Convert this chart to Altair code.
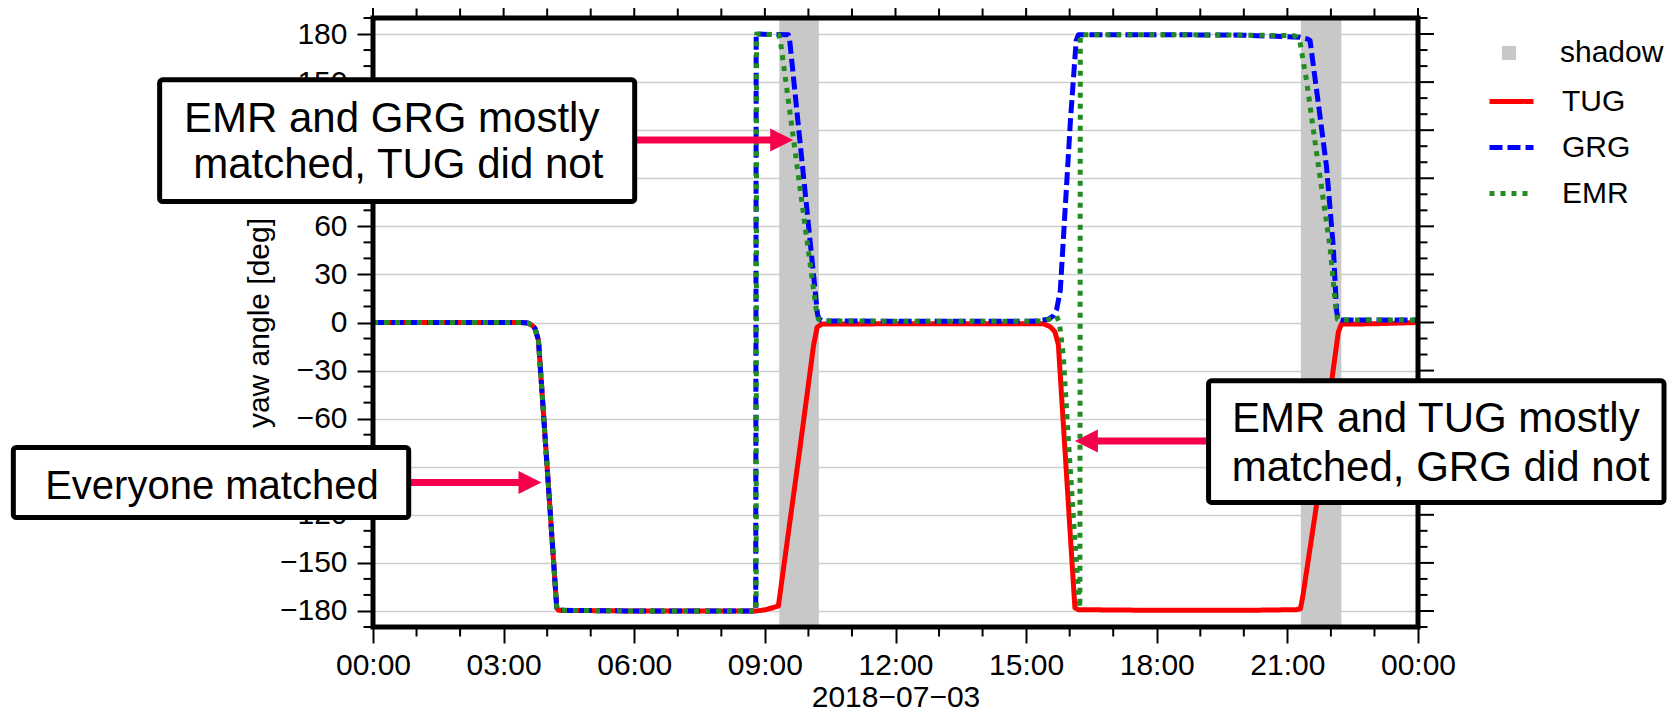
import altair as alt
import pandas as pd

W, H = 1045, 609
FONT = "Liberation Sans"

# ---------------- data ----------------
series_names = ["TUG", "GRG", "EMR"]
series_colors = ["#ff0000", "#0000ff", "#228b22"]
series_dashes = [[1, 0], [13, 5], [5, 6]]

tug_t = [0, 3.40, 3.55, 3.645, 3.72, 3.80, 4.22, 4.26, 6.0, 8.0, 8.8, 9.00, 9.31, 9.81,
         10.12, 10.20, 10.30, 12.0, 15.0, 15.40, 15.55, 15.66, 15.74, 16.12, 16.20, 18.0,
         20.0, 21.20, 21.30, 21.36, 21.68, 22.03, 22.17, 22.24, 23.0, 24.0]
tug_y = [0, 0, -0.3, -1.6, -3.7, -11, -178, -179.6, -180, -180, -180, -179.3, -177, -77.5,
         -14, -3, -1, -0.8, -0.8, -0.8, -2.6, -5.7, -13.7, -178, -179.2, -179.6,
         -179.6, -179.2, -178.6, -170, -112, -34, -6, -1, -0.8, 0]

grg_t = [0, 3.40, 3.55, 3.645, 3.72, 3.80, 4.22, 4.26, 6.0, 8.79, 8.80, 9.54, 9.57, 10.21,
         10.25, 10.32, 12.0, 15.0, 15.30, 15.50, 15.62, 15.70, 15.785, 16.02, 16.15, 16.20,
         18.0, 20.0, 21.29, 21.45, 21.52, 21.71, 21.90, 22.055, 22.13, 22.17, 22.25, 24.0]
grg_y = [0, 0, -0.3, -1.6, -3.7, -11, -178, -179.6, -180, -180, 180, 179.5, 176, 5,
         2, 1, 0.8, 0.8, 1.0, 2.0, 4.0, 8.0, 20, 127, 176, 179.5,
         179.6, 179.3, 178, 177, 176, 137, 97, 47, 7, 2, 1.5, 1.5]

emr_t = [0, 3.40, 3.55, 3.645, 3.72, 3.80, 4.22, 4.26, 6.0, 8.80, 8.81, 9.32, 9.36, 10.18,
         10.23, 10.32, 12.0, 15.0, 15.40, 15.58, 15.70, 15.76, 15.80, 15.855, 15.97, 16.12,
         16.20, 16.235, 16.245, 18.0, 20.0, 21.15, 21.22, 21.29, 21.44, 21.67, 21.98, 22.10,
         22.15, 22.22, 24.0]
emr_y = [0, 0, -0.3, -1.6, -3.7, -11, -178, -179.6, -180, -180, 180, 179.5, 175, 8,
         2, 1, 0.8, 0.8, 1, 2.5, 4, 0, -8, -21, -73, -136,
         -167, -178, 179.5, 179.6, 179.3, 179, 178, 175, 151, 106, 47, 12,
         2, 1.5, 1.5]

shadow_start = [9.33, 21.31]
shadow_end = [10.24, 22.24]

x_major = list(range(0, 25, 3))
x_minor = [h for h in range(25) if h % 3]
y_major = list(range(-180, 181, 30))
y_minor = [v for v in range(-190, 191, 10) if v % 30]

# annotations (in data units: hours, degrees)
box_x1 = [-4.90, 19.19, -8.26]
box_x2 = [6.01, 29.65, 0.82]
box_y1 = [151.4, -36.4, -78.0]
box_y2 = [75.5, -112.3, -121.7]

note_text = ["EMR and GRG mostly", "matched, TUG did not",
             "EMR and TUG mostly", "matched, GRG did not", "Everyone matched"]
note_x = [0.43, 0.58, 24.41, 24.52, -3.70]
note_y = [119.1, 90.0, -68.1, -98.7, -110.1]
note_size = [42, 42, 42, 42, 40]

arrow_r_from = [6.06, 0.87]
arrow_r_to = [9.65, 3.87]
arrow_r_y = [113.9, -99.8]
arrow_l_from = [19.13]
arrow_l_to = [16.12]
arrow_l_y = [-73.9]
ARROW = "#f5004a"

# ---------------- tables ----------------
rows = []
for name, ts, ys in [("TUG", tug_t, tug_y), ("GRG", grg_t, grg_y), ("EMR", emr_t, emr_y)]:
    for i, (t, v) in enumerate(zip(ts, ys)):
        rows.append({"series": name, "hour": t, "yaw": v, "idx": i})
df_lines = pd.DataFrame(rows)
df_shadow = pd.DataFrame({"start": shadow_start, "end": shadow_end, "label": ["shadow"] * 2})
df_boxes = pd.DataFrame({"x1": box_x1, "x2": box_x2, "y1": box_y1, "y2": box_y2})
df_notes = pd.DataFrame({"text": note_text, "x": note_x, "y": note_y, "fs": note_size})
df_ar = pd.DataFrame({"x1": arrow_r_from, "x2": arrow_r_to, "y": arrow_r_y})
df_al = pd.DataFrame({"x1": arrow_l_from, "x2": arrow_l_to, "y": arrow_l_y})

xscale = alt.Scale(domain=[0, 24], nice=False, zero=False)
yscale = alt.Scale(domain=[-190, 190], nice=False, zero=False)

xaxis = alt.Axis(
    values=x_major,
    labelExpr="(datum.value % 24 < 10 ? '0' : '') + (datum.value % 24) + ':00'",
    labelFont=FONT, labelFontSize=30, labelColor="black", labelPadding=7,
    labelFlush=False, labelOverlap=False,
    tickSize=16, tickWidth=2, tickColor="black",
    domain=False, grid=False,
    title="2018\u221207\u221203", titleFont=FONT, titleFontSize=30,
    titleFontWeight="normal", titleColor="black",
    titleX=W / 2, titleY=79, titleBaseline="alphabetic", titleAlign="center",
    zindex=0,
)
yaxis = alt.Axis(
    values=y_major, format="d",
    labelFont=FONT, labelFontSize=30, labelColor="black", labelPadding=10,
    labelOverlap=False,
    tickSize=16, tickWidth=2, tickColor="black",
    domain=False, grid=True, gridColor="#cfcfcf", gridWidth=1.5,
    title="yaw angle [deg]", titleFont=FONT, titleFontSize=30,
    titleFontWeight="normal", titleColor="black",
    titleAngle=270, titleX=-104.4, titleY=H / 2, titleBaseline="alphabetic",
    titleAlign="center",
    zindex=0,
)


def X(field):
    return alt.X(field, type="quantitative", scale=xscale, axis=xaxis)


def Y(field):
    return alt.Y(field, type="quantitative", scale=yscale, axis=yaxis)


line_legend = alt.Legend(
    title=None, orient="none", legendX=1114, legendY=59,
    symbolType="stroke", symbolSize=1936, symbolStrokeWidth=5,
    labelFont=FONT, labelFontSize=30, labelColor="black", labelOffset=26,
    rowPadding=6, padding=0,
)
shadow_legend = alt.Legend(
    title=None, orient="none", legendX=1121, legendY=20,
    symbolType="square", symbolSize=200, symbolStrokeWidth=0,
    labelFont=FONT, labelFontSize=30, labelColor="black", labelOffset=36,
    padding=0,
)

shadow = alt.Chart(df_shadow).mark_rect().encode(
    x=X("start"), x2="end",
    y=alt.value(0), y2=alt.value(H),
    fill=alt.Fill("label:N", scale=alt.Scale(domain=["shadow"], range=["#c8c8c8"]),
                  legend=shadow_legend),
)

line_layers = []
for s in series_names:
    line_layers.append(
        alt.Chart(df_lines).transform_filter(alt.datum.series == s)
        .mark_line(strokeWidth=5, strokeJoin="round")
        .encode(
            x=X("hour"), y=Y("yaw"),
            color=alt.Color("series:N", scale=alt.Scale(domain=series_names, range=series_colors),
                            legend=line_legend),
            strokeDash=alt.StrokeDash("series:N",
                                      scale=alt.Scale(domain=series_names, range=series_dashes),
                                      legend=line_legend),
            order="idx:Q",
        )
    )

df_xmin = pd.DataFrame({"v": x_minor})
df_xmaj = pd.DataFrame({"v": x_major})
df_ymin = pd.DataFrame({"v": y_minor})
df_ymaj = pd.DataFrame({"v": y_major})

tick = dict(color="black", strokeWidth=2)
ticks = [
    alt.Chart(df_xmin).mark_rule(**tick).encode(x=X("v"), y=alt.value(H), y2=alt.value(H + 9.5)),
    alt.Chart(df_xmin).mark_rule(**tick).encode(x=X("v"), y=alt.value(0), y2=alt.value(-9.5)),
    alt.Chart(df_xmaj).mark_rule(**tick).encode(x=X("v"), y=alt.value(0), y2=alt.value(-16)),
    alt.Chart(df_ymin).mark_rule(**tick).encode(y=Y("v"), x=alt.value(0), x2=alt.value(-9.5)),
    alt.Chart(df_ymin).mark_rule(**tick).encode(y=Y("v"), x=alt.value(W), x2=alt.value(W + 9.5)),
    alt.Chart(df_ymaj).mark_rule(**tick).encode(y=Y("v"), x=alt.value(W), x2=alt.value(W + 16)),
]

frame = alt.Chart(pd.DataFrame({"a": [0]})).mark_rect(
    filled=False, stroke="black", strokeWidth=5
).encode(x=alt.value(0), x2=alt.value(W), y=alt.value(0), y2=alt.value(H))

HEAD_R = "M-1,-1L1,0L-1,1Z"
HEAD_L = "M1,-1L-1,0L1,1Z"
arrows = [
    alt.Chart(df_ar).mark_rule(color=ARROW, strokeWidth=7, x2Offset=-14)
    .encode(x=X("x1"), x2="x2", y=Y("y")),
    alt.Chart(df_ar).mark_point(shape=HEAD_R, size=529, filled=True, color=ARROW,
                                opacity=1, strokeWidth=0, xOffset=-11.5)
    .encode(x=X("x2"), y=Y("y")),
    alt.Chart(df_al).mark_rule(color=ARROW, strokeWidth=7, x2Offset=14)
    .encode(x=X("x1"), x2="x2", y=Y("y")),
    alt.Chart(df_al).mark_point(shape=HEAD_L, size=529, filled=True, color=ARROW,
                                opacity=1, strokeWidth=0, xOffset=11.5)
    .encode(x=X("x2"), y=Y("y")),
]

boxes = alt.Chart(df_boxes).mark_rect(
    fill="white", stroke="black", strokeWidth=5, cornerRadius=3
).encode(x=X("x1"), x2="x2", y=Y("y1"), y2="y2")

notes = alt.Chart(df_notes).mark_text(
    font=FONT, align="center", baseline="alphabetic", color="black"
).encode(x=X("x"), y=Y("y"), text="text:N", size=alt.Size("fs:Q", scale=None))

chart = alt.layer(
    shadow, *line_layers, *ticks, frame, *arrows, boxes, notes
).properties(
    width=W, height=H,
    padding={"left": 365, "top": 10, "right": 249, "bottom": 80},
    autosize=alt.AutoSizeParams(type="none"),
).configure_view(stroke=None).configure(font=FONT)

chart.save("out.html", embed_options={"renderer": "svg", "actions": False})
